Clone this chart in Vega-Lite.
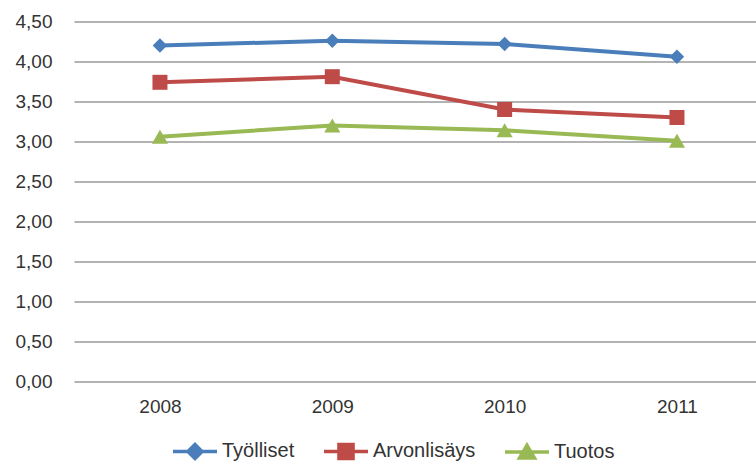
{
  "$schema": "https://vega.github.io/schema/vega-lite/v6.json",
  "width": 682,
  "height": 360,
  "autosize": {"type": "none"},
  "padding": {"left": 74, "top": 21.5, "right": 0, "bottom": 79.5},
  "background": "white",
  "config": {
    "view": {"stroke": null},
    "font": "Liberation Sans",
    "axis": {"labelFont": "Liberation Sans", "labelColor": "#333333", "labelFontSize": 19}
  },
  "data": {
    "values": [
      {"vuosi": "2008", "sarja": "Työlliset", "arvo": 4.20},
      {"vuosi": "2009", "sarja": "Työlliset", "arvo": 4.26},
      {"vuosi": "2010", "sarja": "Työlliset", "arvo": 4.22},
      {"vuosi": "2011", "sarja": "Työlliset", "arvo": 4.06},
      {"vuosi": "2008", "sarja": "Arvonlisäys", "arvo": 3.74},
      {"vuosi": "2009", "sarja": "Arvonlisäys", "arvo": 3.81},
      {"vuosi": "2010", "sarja": "Arvonlisäys", "arvo": 3.40},
      {"vuosi": "2011", "sarja": "Arvonlisäys", "arvo": 3.30},
      {"vuosi": "2008", "sarja": "Tuotos", "arvo": 3.06},
      {"vuosi": "2009", "sarja": "Tuotos", "arvo": 3.20},
      {"vuosi": "2010", "sarja": "Tuotos", "arvo": 3.14},
      {"vuosi": "2011", "sarja": "Tuotos", "arvo": 3.01}
    ]
  },
  "encoding": {
    "x": {
      "field": "vuosi", "type": "ordinal",
      "scale": {"type": "point", "padding": 0.4787, "align": 0.521},
      "axis": {"title": null, "domain": false, "ticks": false, "tickSize": 0, "labelPadding": 16, "labelAngle": 0, "grid": false}
    },
    "y": {
      "field": "arvo", "type": "quantitative",
      "scale": {"domain": [0, 4.5], "nice": false, "zero": true},
      "axis": {
        "title": null, "domain": false, "ticks": false, "tickSize": 0,
        "values": [0, 0.5, 1, 1.5, 2, 2.5, 3, 3.5, 4, 4.5],
        "labelExpr": "replace(format(datum.value, '.2f'), '.', ',')",
        "labelPadding": 22,
        "grid": true, "gridColor": "#9a9a9a", "gridWidth": 1.5
      }
    },
    "color": {
      "field": "sarja", "type": "nominal",
      "scale": {"domain": ["Työlliset", "Arvonlisäys", "Tuotos"], "range": ["#4a7ebb", "#be4b48", "#98b954"]},
      "legend": {
        "title": null, "orient": "none", "direction": "horizontal",
        "legendX": 97, "legendY": 405.5,
        "padding": 0,
        "symbolSize": 1936,
        "symbolStrokeWidth": 3.5,
        "labelFont": "Liberation Sans", "labelFontSize": 20, "labelColor": "#333333",
        "labelOffset": 3, "columnPadding": 22,
        "encode": {
          "symbols": {
            "update": {
              "shape": {"signal": "datum.value === 'Työlliset' ? 'M-1,0L1,0M0,-0.32L0.32,0L0,0.32L-0.32,0Z' : datum.value === 'Arvonlisäys' ? 'M-1,0L1,0M-0.32,-0.32L0.32,-0.32L0.32,0.32L-0.32,0.32Z' : 'M-1,0L1,0M0,-0.3L0.34,0.28L-0.34,0.28Z'"},
              "size": {"value": 1936},
              "fill": {"signal": "scale('color', datum.value)"},
              "stroke": {"signal": "scale('color', datum.value)"},
              "strokeWidth": {"value": 3.5},
              "opacity": {"value": 1},
              "fillOpacity": {"value": 1}
            }
          }
        }
      }
    }
  },
  "layer": [
    {"mark": {"type": "line", "strokeWidth": 4}},
    {
      "transform": [{"filter": "datum.sarja === 'Työlliset'"}],
      "mark": {"type": "point", "filled": true, "opacity": 1, "shape": "diamond", "size": 210}
    },
    {
      "transform": [{"filter": "datum.sarja === 'Arvonlisäys'"}],
      "mark": {"type": "point", "filled": true, "opacity": 1, "shape": "square", "size": 225}
    },
    {
      "transform": [{"filter": "datum.sarja === 'Tuotos'"}],
      "mark": {"type": "point", "filled": true, "opacity": 1, "shape": "triangle-up", "size": 260}
    }
  ]
}
